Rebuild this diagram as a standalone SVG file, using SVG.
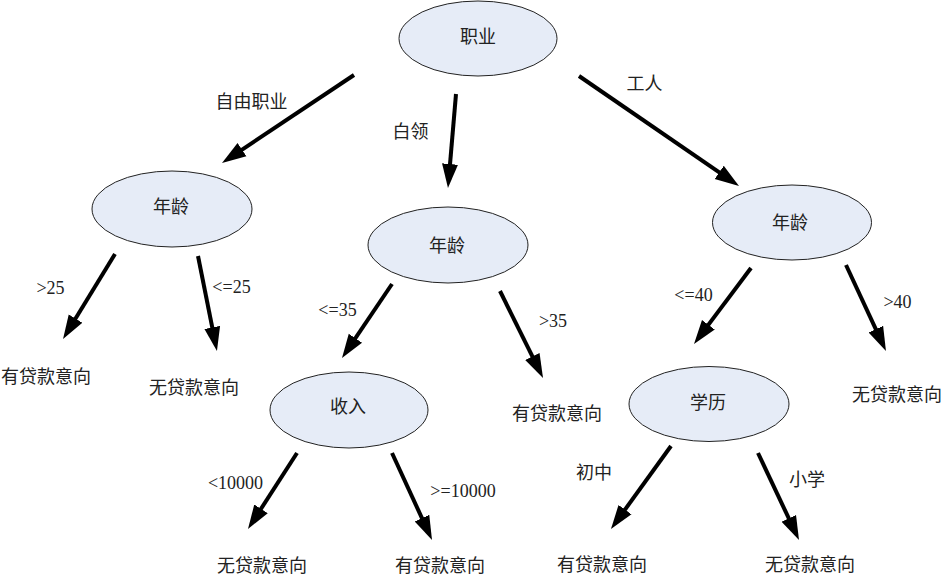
<svg xmlns="http://www.w3.org/2000/svg" width="944" height="578" viewBox="0 0 944 578">
<style>
  .node ellipse { fill: #E6ECF7; stroke: #222; stroke-width: 1; }
  text { font-family: "Liberation Serif", "Noto Sans CJK SC", serif; font-size: 18px; fill: #222; text-anchor: middle; dominant-baseline: central; }
  .edge { stroke: #000; stroke-width: 4; fill: none; marker-end: url(#ah); }
</style>
<defs>
  <marker id="ah" markerUnits="userSpaceOnUse" markerWidth="26" markerHeight="20" viewBox="0 -10 26 20" refX="12" refY="0" orient="auto">
    <path d="M0,-8 L24,0 L0,8 Z" fill="#000"/>
  </marker>
</defs>
<rect width="944" height="578" fill="#fff"/>
<g id="connectors">
  <line class="edge" x1="354" y1="75" x2="232.0" y2="156.3"/>
  <line class="edge" x1="456" y1="94" x2="449.0" y2="176.0"/>
  <line class="edge" x1="579" y1="76" x2="729.1" y2="179.2"/>
  <line class="edge" x1="115" y1="254" x2="69.3" y2="328.8"/>
  <line class="edge" x1="198" y1="256" x2="214.6" y2="339.2"/>
  <line class="edge" x1="392" y1="284" x2="348.7" y2="348.1"/>
  <line class="edge" x1="500" y1="291" x2="537.7" y2="367.2"/>
  <line class="edge" x1="297" y1="453" x2="254.5" y2="518.9"/>
  <line class="edge" x1="392" y1="453" x2="427.0" y2="529.1"/>
  <line class="edge" x1="751" y1="268" x2="701.2" y2="334.4"/>
  <line class="edge" x1="846" y1="265" x2="880.9" y2="340.1"/>
  <line class="edge" x1="671" y1="446" x2="618.0" y2="519.3"/>
  <line class="edge" x1="758" y1="453" x2="793.9" y2="529.2"/>
  <text x="251.5" y="102">自由职业</text>
  <text x="410.5" y="132">白领</text>
  <text x="644.5" y="84">工人</text>
  <text x="50.5" y="288">&gt;25</text>
  <text x="231.5" y="287">&lt;=25</text>
  <text x="337.5" y="310">&lt;=35</text>
  <text x="553" y="321">&gt;35</text>
  <text x="235.5" y="483">&lt;10000</text>
  <text x="463" y="491">&gt;=10000</text>
  <text x="693.5" y="295">&lt;=40</text>
  <text x="897.5" y="302">&gt;40</text>
  <text x="594" y="473">初中</text>
  <text x="807" y="480">小学</text>
</g>
<g id="n-occupation" class="node"><ellipse cx="478" cy="38.5" rx="79" ry="37.5"/><text x="478" y="37">职业</text></g>
<g id="n-age-left" class="node"><ellipse cx="172" cy="209" rx="80" ry="38"/><text x="171" y="207">年龄</text></g>
<g id="n-age-mid" class="node"><ellipse cx="448" cy="245" rx="80" ry="38"/><text x="447" y="246">年龄</text></g>
<g id="n-age-right" class="node"><ellipse cx="792" cy="222.5" rx="79.5" ry="37.5"/><text x="790" y="223">年龄</text></g>
<g id="n-income" class="node"><ellipse cx="349" cy="410" rx="79" ry="38"/><text x="348" y="407">收入</text></g>
<g id="n-edu" class="node"><ellipse cx="709" cy="404" rx="80" ry="37.5"/><text x="708" y="403">学历</text></g>
<g id="leaf1"><text x="46" y="377">有贷款意向</text></g>
<g id="leaf2"><text x="194" y="388">无贷款意向</text></g>
<g id="leaf3"><text x="557" y="414">有贷款意向</text></g>
<g id="leaf4"><text x="262" y="566">无贷款意向</text></g>
<g id="leaf5"><text x="440" y="566">有贷款意向</text></g>
<g id="leaf6"><text x="897" y="395">无贷款意向</text></g>
<g id="leaf7"><text x="602" y="565">有贷款意向</text></g>
<g id="leaf8"><text x="810" y="565">无贷款意向</text></g>
</svg>
